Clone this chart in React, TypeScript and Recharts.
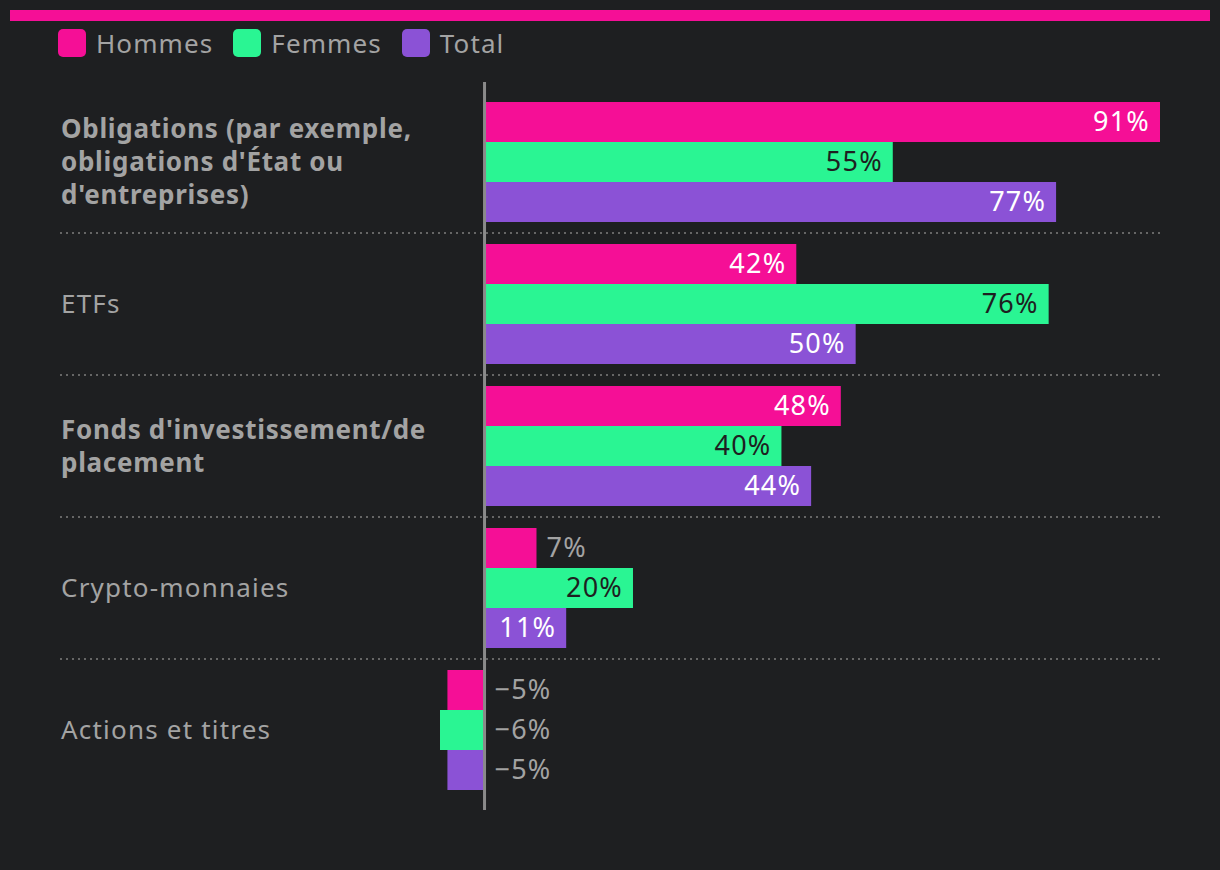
import { BarChart, Bar, XAxis, YAxis, ReferenceLine, LabelList } from 'recharts';

// data
const categories = [
    'Obligations (par exemple, obligations d\'État ou d\'entreprises)',
    'ETFs',
    'Fonds d\'investissement/de placement',
    'Crypto-monnaies',
    'Actions et titres',
];
const categoryLines = [
    ['Obligations (par exemple,', 'obligations d\'État ou', 'd\'entreprises)'],
    ['ETFs'],
    ['Fonds d\'investissement/de', 'placement'],
    ['Crypto-monnaies'],
    ['Actions et titres'],
];
const categoryBold = [true, false, true, false, false];
const hommes = [91, 42, 48, 7, -5];
const femmes = [55, 76, 40, 20, -6];
const total = [77, 50, 44, 11, -5];

const series = [
    { key: 'hommes', name: 'Hommes', color: '#f50f96', text: '#ffffff' },
    { key: 'femmes', name: 'Femmes', color: '#2af593', text: '#1e1f21' },
    { key: 'total', name: 'Total', color: '#8b52d6', text: '#ffffff' },
];

const data = categories.map((c, i) => ({
    name: c,
    hommes: hommes[i],
    femmes: femmes[i],
    total: total[i],
}));

const W = 1220;
const H = 870;
const MARGIN = { top: 91, right: 60, bottom: 69, left: 0 };
const BG = '#1e1f21';
const GRAY = '#a3a3a3';
const FONT = "'Noto Sans', sans-serif";
const band = (H - MARGIN.top - MARGIN.bottom) / categories.length;

function CategoryTick(props: any) {
    const { y, index } = props;
    const lines = categoryLines[index] || [];
    const lh = 33;
    const start = y - ((lines.length - 1) * lh) / 2;
    const bold = categoryBold[index];
    return (
        <g>
            {index < categories.length - 1 && (
                <line
                    x1={60}
                    x2={W - MARGIN.right}
                    y1={y + band / 2}
                    y2={y + band / 2}
                    stroke="#666"
                    strokeWidth={2}
                    strokeDasharray="2 4"
                />
            )}
            <text
                x={61}
                y={start}
                fill={GRAY}
                fontSize={26}
                fontFamily={FONT}
                fontWeight={bold ? 700 : 400}
                letterSpacing={bold ? 0.7 : 1.2}
            >
                {lines.map((l, i) => (
                    <tspan key={i} x={61} y={start + i * lh} dy="0.35em">
                        {l}
                    </tspan>
                ))}
            </text>
        </g>
    );
}

const makeLabel = (textColor: string) => (props: any) => {
    const { x, y, width, height, value } = props;
    const left = Math.min(x, x + width);
    const right = Math.max(x, x + width);
    const cy = y + height / 2;
    const common = { y: cy, dy: '0.35em', fontSize: 27, fontFamily: FONT, letterSpacing: 1.2 };
    if (value < 0) {
        return (
            <text x={right + 10} fill={GRAY} {...common}>
                {`\u2212${Math.abs(value)}%`}
            </text>
        );
    }
    if (right - left >= 70) {
        return (
            <text x={right - 10} textAnchor="end" fill={textColor} {...common}>
                {`${value}%`}
            </text>
        );
    }
    return (
        <text x={right + 10} fill={GRAY} {...common}>
            {`${value}%`}
        </text>
    );
};

// zero line sticks out a little above and below the plot
const ZeroLine = (props: any) => {
    const top = Math.min(props.y1, props.y2);
    const bottom = Math.max(props.y1, props.y2);
    return <line x1={props.x1} x2={props.x2} y1={top - 9} y2={bottom + 9} stroke="#8a8a8a" strokeWidth={3} />;
};

export default function App() {
    return (
        <div style={{ position: 'absolute', top: 0, left: 0, width: W, height: H, background: BG, fontFamily: FONT }}>
            <div style={{ position: 'absolute', top: 10, left: 10, width: 1200, height: 11, background: '#f50f96' }} />
            <div style={{ position: 'absolute', top: 29, left: 58, display: 'flex', alignItems: 'center' }}>
                {series.map((s) => (
                    <div key={s.key} style={{ display: 'flex', alignItems: 'center', marginRight: 20 }}>
                        <div style={{ width: 28, height: 28, borderRadius: 5, background: s.color, marginRight: 10 }} />
                        <span style={{ color: GRAY, fontSize: 26, lineHeight: '28px', letterSpacing: 1.1 }}>{s.name}</span>
                    </div>
                ))}
            </div>
            <BarChart
                width={W}
                height={H}
                data={data}
                layout="vertical"
                margin={MARGIN}
                barGap={0}
                barCategoryGap={11}
                style={{ position: 'absolute', top: 0, left: 0 }}
            >
                <XAxis type="number" hide domain={['dataMin', 'dataMax']} />
                <YAxis
                    type="category"
                    dataKey="name"
                    width={440}
                    axisLine={false}
                    tickLine={false}
                    tick={<CategoryTick />}
                    interval={0}
                />
                {series.map((s) => (
                    <Bar key={s.key} dataKey={s.key} name={s.name} fill={s.color} barSize={40} isAnimationActive={false}>
                        <LabelList dataKey={s.key} content={makeLabel(s.text)} />
                    </Bar>
                ))}
                <ReferenceLine x={0} ifOverflow="visible" shape={<ZeroLine />} />
            </BarChart>
        </div>
    );
}
